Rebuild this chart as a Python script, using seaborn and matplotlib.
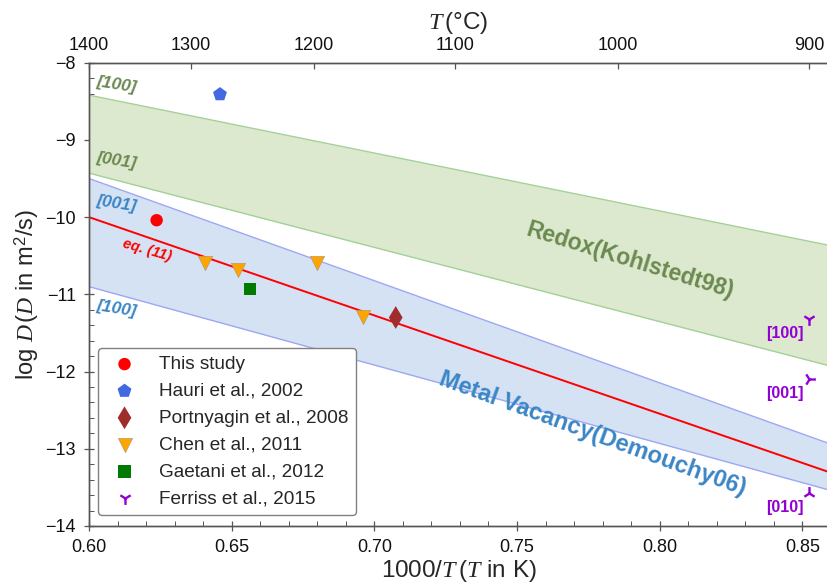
import numpy as np
import pandas as pd
import matplotlib
matplotlib.use("Agg")
import matplotlib.pyplot as plt
import seaborn as sns
from matplotlib.ticker import MultipleLocator, FixedLocator

# ---- data: 1000/T (K) and log10 D (m^2/s) ----
this_x = [0.6237]
this_y = [-10.04]
hauri_x = [0.6459]
hauri_y = [-8.41]
port_x = [0.7075]
port_y = [-11.30]
chen_x = [0.6407, 0.6523, 0.6798, 0.6959]
chen_y = [-10.59, -10.69, -10.60, -11.29]
gaet_x = [0.6564]
gaet_y = [-10.93]
ferr_x = [0.8524, 0.8524, 0.8524]
ferr_y = [-11.32, -12.10, -13.57]
ferr_dirs = ["[100]", "[001]", "[010]"]
ferr_markers = ["1", "4", "2"]

# Arrhenius laws evaluated at both ends of the 1000/T range
line_x = [0.60, 0.86]
redox_100 = [-8.42, -10.37]
redox_001 = [-9.43, -11.93]
mv_001 = [-9.50, -12.94]
mv_100 = [-10.90, -13.54]
eq11 = [-10.00, -13.31]

top_celsius = [1400, 1300, 1200, 1100, 1000, 900]

# ---- style ----
sns.set_style("white")
plt.rcParams.update({
    "font.family": ["Liberation Sans", "DejaVu Sans"],
    "mathtext.fontset": "custom",
    "mathtext.it": "Liberation Serif:italic",
    "mathtext.rm": "Liberation Sans",
    "mathtext.bf": "Liberation Sans:bold",
    "axes.edgecolor": "#555555",
    "axes.linewidth": 1.0,
})

green_fill, green_edge, green_text = "#dde9cf", "#a3d197", "#6b8a50"
blue_fill, blue_edge, blue_text = "#d5e2f4", "#9ea8f2", "#3c86c6"
purple = "#9400d3"

XLIM = (0.60, 0.859)
YLIM = (-14, -8)

fig = plt.figure(figsize=(8.28, 5.86), dpi=100)
ax = fig.add_axes([89 / 828, 1 - 526 / 586, 739 / 828, (526 - 62.7) / 586])

lx = np.array(line_x)
# Redox band (Kohlstedt98)
ax.fill_between(lx, redox_001, redox_100, color=green_fill, lw=0, zorder=1)
sns.lineplot(x=line_x, y=redox_100, color=green_edge, lw=1.0, ax=ax, zorder=2)
sns.lineplot(x=line_x, y=redox_001, color=green_edge, lw=1.0, ax=ax, zorder=2)
# Metal vacancy band (Demouchy06)
ax.fill_between(lx, mv_100, mv_001, color=blue_fill, lw=0, zorder=1)
sns.lineplot(x=line_x, y=mv_001, color=blue_edge, lw=1.0, ax=ax, zorder=2)
sns.lineplot(x=line_x, y=mv_100, color=blue_edge, lw=1.0, ax=ax, zorder=2)
# eq. (11)
sns.lineplot(x=line_x, y=eq11, color="#ff0000", lw=1.4, ax=ax, zorder=3)

# ---- data points ----
sns.scatterplot(x=this_x, y=this_y, marker="o", s=80, color="#ff0000",
                edgecolor="none", label="This study", ax=ax, zorder=5)
sns.scatterplot(x=hauri_x, y=hauri_y, marker="p", s=110, color="#4169e1",
                edgecolor="none", label="Hauri et al., 2002", ax=ax, zorder=5)
sns.scatterplot(x=port_x, y=port_y, marker="d", s=135, color="#a02c2c",
                edgecolor="none", label="Portnyagin et al., 2008", ax=ax, zorder=5)
sns.scatterplot(x=chen_x, y=chen_y, marker="v", s=105, color="#ffa500",
                edgecolor="#b89a70", linewidth=0.5, label="Chen et al., 2011",
                ax=ax, zorder=5)
sns.scatterplot(x=gaet_x, y=gaet_y, marker="s", s=80, color="#007a00",
                edgecolor="none", label="Gaetani et al., 2012", ax=ax, zorder=5)
for i, (fx, fy, mk, lab) in enumerate(zip(ferr_x, ferr_y, ferr_markers, ferr_dirs)):
    sns.scatterplot(x=[fx], y=[fy], marker=mk, s=85, color=purple, linewidth=1.7,
                    label="Ferriss et al., 2015" if i == 0 else None,
                    legend=(i == 0), ax=ax, zorder=5)
    ax.annotate(lab, (fx, fy), xytext=(-17.5, -10.5), textcoords="offset points",
                ha="center", va="center", fontsize=11.5, fontweight="bold",
                color=purple, zorder=6)

# ---- band / line labels ----
lab_kw = dict(fontsize=12.5, fontweight="bold", fontstyle="italic",
              ha="center", va="center", zorder=6)
ax.text(0.6098, -8.29, "[100]", color=green_text, rotation=-9, **lab_kw)
ax.text(0.6098, -9.27, "[001]", color=green_text, rotation=-9, **lab_kw)
ax.text(0.6098, -9.83, "[001]", color=blue_text, rotation=-9, **lab_kw)
ax.text(0.6098, -11.19, "[100]", color=blue_text, rotation=-9, **lab_kw)
ax.text(0.6203, -10.43, "eq. (11)", color="#ff0000", rotation=-16,
        fontsize=10.5, fontweight="bold", fontstyle="italic",
        ha="center", va="center", zorder=6)
ax.text(0.7896, -10.56, "Redox(Kohlstedt98)", color=green_text, rotation=-17,
        fontsize=16.5, fontweight="bold", ha="center", va="center", zorder=6)
ax.text(0.7763, -12.80, "Metal Vacancy(Demouchy06)", color=blue_text, rotation=-20,
        fontsize=17, fontweight="bold", ha="center", va="center", zorder=6)

# ---- axes ----
ax.set_xlim(*XLIM)
ax.set_ylim(*YLIM)
ax.xaxis.set_major_locator(MultipleLocator(0.05))
ax.xaxis.set_minor_locator(MultipleLocator(0.01))
ax.yaxis.set_major_locator(MultipleLocator(1))
ax.yaxis.set_minor_locator(MultipleLocator(0.2))
ax.xaxis.set_major_formatter(matplotlib.ticker.FormatStrFormatter("%.2f"))
ax.yaxis.set_major_formatter(matplotlib.ticker.FuncFormatter(
    lambda v, p: f"\u2212{abs(int(round(v)))}" if v < 0 else f"{int(round(v))}"))
ax.tick_params(which="major", direction="inout", length=7, width=0.9,
               color="#555555", labelsize=13, pad=6, labelcolor="#111111")
ax.tick_params(which="minor", direction="in", length=3.5, width=0.7, color="#555555")
ax.tick_params(axis="x", which="both", bottom=True, top=False)
ax.tick_params(axis="y", which="both", left=True, right=False, labelleft=True)
ax.spines["right"].set_visible(False)

ax.set_xlabel(r"1000/$T\,$($T$ in K)", fontsize=17.5, labelpad=1)
ax.set_ylabel(r"log $D\,$($D$ in m$^{\mathrm{2}}$/s)", fontsize=17, labelpad=3)

# top axis in degrees Celsius
ax_top = ax.twiny()
ax_top.set_xlim(*XLIM)
top_pos = np.clip(1000.0 / (np.array(top_celsius) + 273.15), *XLIM)
ax_top.xaxis.set_major_locator(FixedLocator(top_pos))
ax_top.set_xticklabels([str(c) for c in top_celsius])
ax_top.tick_params(axis="x", which="major", direction="in", length=4, width=0.9,
                   color="#555555", labelsize=13, pad=6, labelcolor="#111111")
ax_top.tick_params(axis="x", which="minor", top=False, bottom=False)
ax_top.spines["right"].set_visible(False)
ax_top.set_xlabel(r"$T\,$(°C)", fontsize=17.5, labelpad=6)

# ---- legend ----
leg = ax.legend(loc="lower left", bbox_to_anchor=(0.012, 0.024), borderaxespad=0,
                fontsize=13.7, frameon=True, fancybox=True, framealpha=1,
                edgecolor="#808080", labelspacing=0.5, borderpad=0.4,
                handletextpad=0.8, handlelength=2.0)
leg.get_frame().set_linewidth(1.0)
leg.set_zorder(10)

fig.savefig("out.png", dpi=100)
